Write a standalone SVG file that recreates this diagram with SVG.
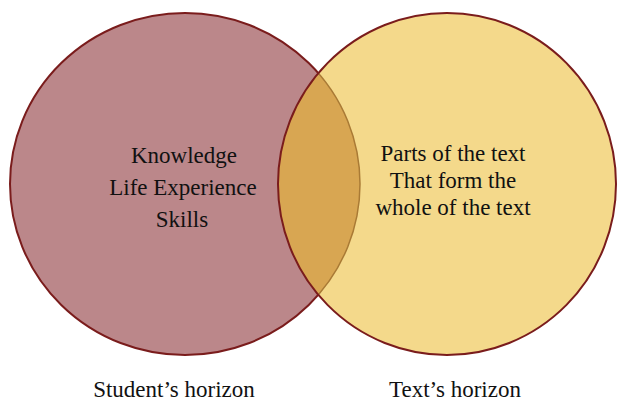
<svg xmlns="http://www.w3.org/2000/svg" width="617" height="402" viewBox="0 0 617 402">
<style>
text{font-family:"Liberation Serif","Times New Roman",serif;font-size:23px;fill:#111;text-anchor:middle}
.ring{stroke:#7a1c1c;stroke-width:2}
</style>
<defs>
<clipPath id="clipL"><ellipse cx="185" cy="184" rx="175" ry="171"/></clipPath>
</defs>
<rect width="617" height="402" fill="#fff"/>
<g id="student">
<ellipse class="ring" cx="185" cy="184" rx="175" ry="171" fill="#bb878a"/>
</g>
<g id="text-horizon">
<ellipse cx="447" cy="184" rx="169" ry="171" fill="#f4d98b"/>
<ellipse cx="447" cy="184" rx="169" ry="171" fill="#d8a652" clip-path="url(#clipL)"/>
<ellipse cx="185" cy="184" rx="175" ry="171" fill="none" stroke="#a97a35" stroke-width="1.5" clip-path="url(#clipR)"/>
<ellipse class="ring" cx="447" cy="184" rx="169" ry="171" fill="none"/>
</g>
<g id="labels">
<text x="184" y="163">Knowledge</text>
<text x="183" y="195">Life Experience</text>
<text x="182" y="227">Skills</text>
<text x="453" y="161">Parts of the text</text>
<text x="453" y="188">That form the</text>
<text x="453" y="215">whole of the text</text>
<text x="174" y="397">Student’s horizon</text>
<text x="455" y="397">Text’s horizon</text>
</g>
<defs>
<clipPath id="clipR"><ellipse cx="447" cy="184" rx="169" ry="171"/></clipPath>
</defs>
</svg>
